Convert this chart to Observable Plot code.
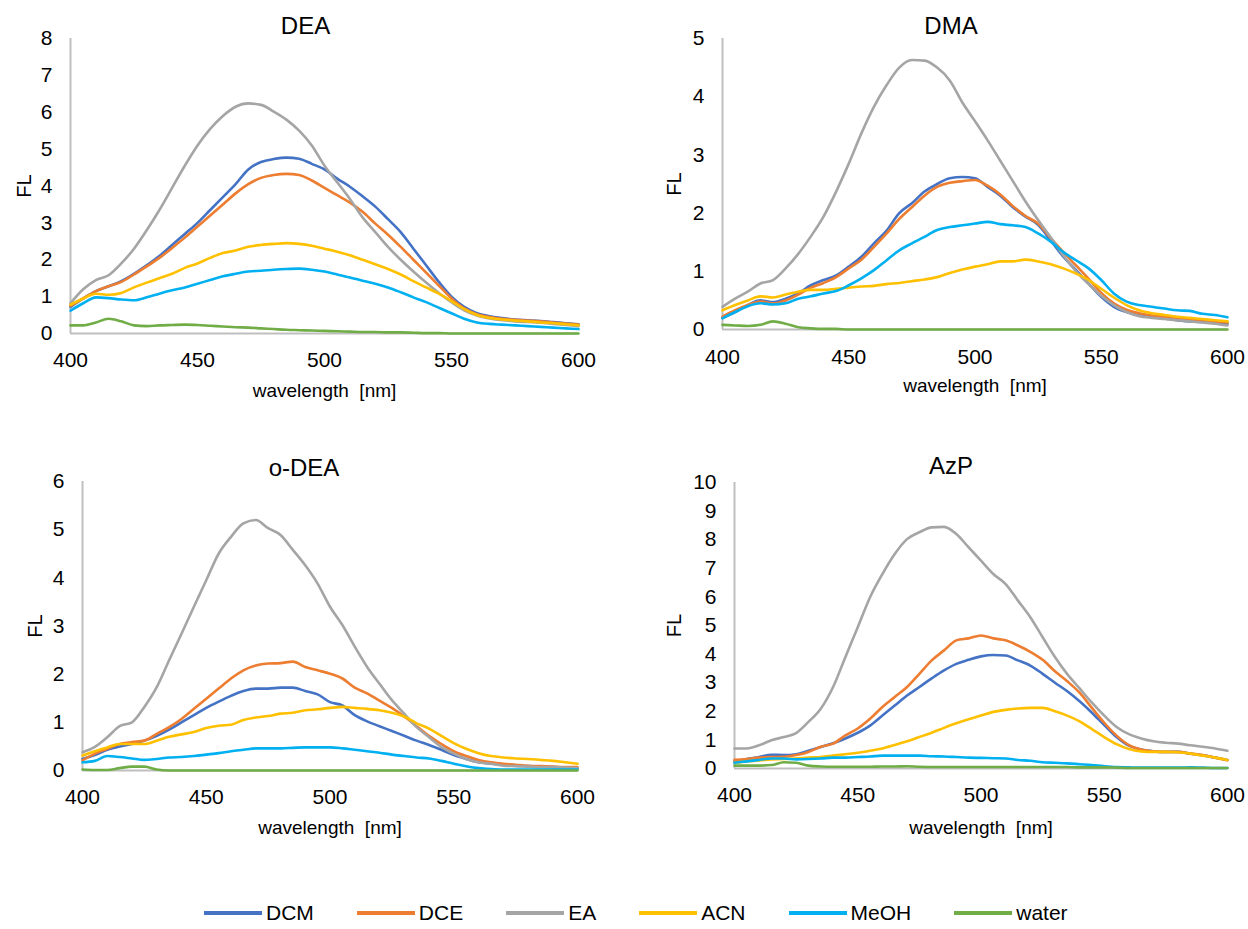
<!DOCTYPE html>
<html><head><meta charset="utf-8">
<script src="https://cdn.jsdelivr.net/npm/d3@7"></script>
<script src="https://cdn.jsdelivr.net/npm/@observablehq/plot@0.6"></script>
<style>
body{margin:0;background:#fff;}
#root{position:relative;width:1248px;height:929px;font-family:"Liberation Sans",Arial,sans-serif;overflow:hidden;}
.panel{position:absolute;}
.panel svg{overflow:visible;}
#legend{position:absolute;left:204px;top:900px;display:flex;align-items:center;gap:43px;font-size:21px;color:#000;line-height:26px;}
.item{display:flex;align-items:center;}
.sw{width:58px;height:4px;margin-right:4px;}
</style></head><body><div id="root"><div id="legend"></div></div>
<script>
const wavelengths = [400,405,410,415,420,425,430,435,440,445,450,455,460,465,470,475,480,485,490,495,500,505,510,515,520,525,530,535,540,545,550,555,560,565,570,575,580,585,590,595,600];
const solvents = ["DCM","DCE","EA","ACN","MeOH","water"];
const colors = ["#4472C4","#ED7D31","#A5A5A5","#FFC000","#00B0F0","#70AD47"];
const xTicks = [400,450,500,550,600];

// DEA
const DEA_DCM = [0.72,0.95,1.15,1.28,1.42,1.62,1.85,2.1,2.4,2.7,3.0,3.35,3.7,4.05,4.45,4.65,4.73,4.77,4.74,4.6,4.45,4.2,3.98,3.72,3.44,3.1,2.75,2.3,1.85,1.4,1.0,0.72,0.55,0.47,0.42,0.38,0.36,0.34,0.31,0.28,0.25];
const DEA_DCE = [0.75,0.95,1.15,1.28,1.4,1.6,1.82,2.05,2.32,2.6,2.9,3.2,3.5,3.8,4.05,4.22,4.3,4.33,4.3,4.15,3.95,3.75,3.55,3.3,2.98,2.68,2.35,2.0,1.65,1.3,0.95,0.68,0.52,0.45,0.4,0.37,0.35,0.33,0.3,0.27,0.24];
const DEA_EA = [0.82,1.2,1.45,1.58,1.9,2.3,2.8,3.35,3.95,4.55,5.1,5.55,5.9,6.15,6.24,6.2,6.02,5.8,5.5,5.1,4.55,4.1,3.65,3.15,2.75,2.35,2.0,1.68,1.38,1.1,0.85,0.63,0.49,0.41,0.36,0.33,0.31,0.29,0.26,0.23,0.2];
const DEA_ACN = [0.78,0.95,1.08,1.05,1.1,1.25,1.38,1.5,1.62,1.78,1.9,2.05,2.18,2.25,2.35,2.4,2.43,2.45,2.43,2.38,2.3,2.22,2.12,2.0,1.88,1.75,1.6,1.42,1.25,1.08,0.88,0.66,0.5,0.42,0.38,0.35,0.33,0.3,0.28,0.25,0.22];
const DEA_MeOH = [0.62,0.82,0.98,0.96,0.92,0.9,0.98,1.08,1.17,1.25,1.35,1.45,1.55,1.62,1.68,1.7,1.73,1.75,1.76,1.73,1.68,1.6,1.52,1.43,1.35,1.25,1.12,0.98,0.85,0.7,0.55,0.4,0.3,0.26,0.24,0.22,0.2,0.18,0.16,0.14,0.12];
const DEA_water = [0.22,0.22,0.3,0.4,0.33,0.22,0.2,0.22,0.23,0.24,0.23,0.21,0.19,0.17,0.16,0.14,0.12,0.1,0.09,0.08,0.07,0.06,0.05,0.04,0.04,0.03,0.03,0.02,0.01,0.01,0,0,0,0,0,0,0,0,0,0,0];

// DMA
const DMA_DCM = [0.2,0.3,0.42,0.5,0.47,0.53,0.62,0.76,0.85,0.93,1.08,1.25,1.48,1.7,2.0,2.17,2.37,2.5,2.6,2.62,2.6,2.45,2.3,2.1,1.94,1.8,1.53,1.25,1.02,0.79,0.56,0.39,0.3,0.25,0.22,0.19,0.16,0.14,0.13,0.11,0.1];
const DMA_DCE = [0.22,0.33,0.42,0.48,0.45,0.5,0.6,0.72,0.8,0.9,1.05,1.2,1.42,1.65,1.9,2.1,2.3,2.45,2.52,2.55,2.57,2.47,2.32,2.12,1.95,1.82,1.57,1.33,1.1,0.87,0.63,0.45,0.34,0.28,0.24,0.22,0.2,0.18,0.16,0.14,0.12];
const DMA_EA = [0.39,0.53,0.65,0.79,0.85,1.05,1.3,1.6,1.94,2.37,2.85,3.37,3.83,4.2,4.5,4.63,4.62,4.5,4.28,3.9,3.58,3.25,2.9,2.55,2.2,1.88,1.58,1.27,1.0,0.78,0.58,0.42,0.3,0.23,0.2,0.18,0.16,0.14,0.12,0.1,0.07];
const DMA_ACN = [0.33,0.42,0.5,0.57,0.55,0.6,0.65,0.68,0.68,0.7,0.72,0.74,0.75,0.78,0.8,0.83,0.86,0.9,0.97,1.03,1.08,1.12,1.17,1.17,1.2,1.17,1.12,1.05,0.96,0.85,0.7,0.55,0.42,0.33,0.28,0.25,0.22,0.2,0.18,0.16,0.14];
const DMA_MeOH = [0.19,0.3,0.4,0.45,0.43,0.45,0.53,0.57,0.62,0.66,0.76,0.88,1.02,1.19,1.36,1.48,1.59,1.71,1.76,1.79,1.82,1.85,1.81,1.79,1.76,1.65,1.51,1.33,1.19,1.05,0.85,0.62,0.48,0.42,0.39,0.36,0.33,0.32,0.27,0.25,0.21];
const DMA_water = [0.08,0.07,0.06,0.08,0.14,0.1,0.04,0.02,0.01,0.01,0,0,0,0,0,0,0,0,0,0,0,0,0,0,0,0,0,0,0,0,0,0,0,0,0,0,0,0,0,0,0];

// o-DEA
const ODEA_DCM = [0.24,0.32,0.43,0.5,0.55,0.62,0.72,0.85,1.0,1.15,1.3,1.43,1.55,1.65,1.7,1.7,1.72,1.72,1.65,1.58,1.42,1.35,1.15,1.02,0.92,0.82,0.72,0.62,0.53,0.43,0.32,0.24,0.17,0.14,0.12,0.1,0.09,0.08,0.07,0.06,0.05];
const ODEA_DCE = [0.21,0.35,0.45,0.55,0.59,0.62,0.76,0.9,1.07,1.28,1.49,1.7,1.91,2.08,2.18,2.22,2.23,2.26,2.15,2.08,2.01,1.91,1.72,1.6,1.45,1.3,1.12,0.92,0.72,0.55,0.4,0.3,0.22,0.17,0.14,0.12,0.1,0.09,0.08,0.07,0.07];
const ODEA_EA = [0.38,0.49,0.69,0.92,1.0,1.32,1.73,2.29,2.84,3.4,3.95,4.5,4.85,5.13,5.2,5.03,4.89,4.58,4.26,3.88,3.4,3.02,2.57,2.15,1.8,1.46,1.18,0.9,0.69,0.49,0.35,0.24,0.17,0.14,0.1,0.09,0.08,0.07,0.07,0.06,0.05];
const ODEA_ACN = [0.31,0.4,0.48,0.55,0.55,0.55,0.62,0.7,0.75,0.8,0.88,0.93,0.95,1.05,1.1,1.13,1.18,1.2,1.25,1.27,1.3,1.32,1.3,1.28,1.25,1.2,1.12,0.98,0.87,0.72,0.57,0.45,0.36,0.3,0.27,0.25,0.24,0.22,0.2,0.17,0.14];
const ODEA_MeOH = [0.17,0.2,0.3,0.28,0.25,0.22,0.24,0.27,0.28,0.3,0.33,0.36,0.4,0.43,0.46,0.46,0.46,0.47,0.48,0.48,0.48,0.46,0.43,0.4,0.37,0.33,0.3,0.27,0.25,0.2,0.14,0.09,0.05,0.03,0.02,0.02,0.02,0.02,0.02,0.02,0.02];
const ODEA_water = [0.02,0.01,0.01,0.05,0.08,0.08,0.02,0,0,0,0,0,0,0,0,0,0,0,0,0,0,0,0,0,0,0,0,0,0,0,0,0,0,0,0,0,0,0,0,0,0];

// AzP
const AZP_DCM = [0.25,0.33,0.4,0.48,0.47,0.5,0.62,0.75,0.88,1.05,1.25,1.5,1.85,2.2,2.55,2.85,3.15,3.43,3.66,3.8,3.92,3.97,3.95,3.78,3.6,3.31,3.0,2.7,2.35,1.95,1.52,1.1,0.8,0.66,0.6,0.58,0.58,0.52,0.46,0.38,0.3];
const AZP_DCE = [0.3,0.33,0.38,0.4,0.41,0.47,0.58,0.76,0.87,1.16,1.4,1.74,2.15,2.5,2.85,3.31,3.78,4.13,4.48,4.55,4.65,4.55,4.48,4.3,4.08,3.8,3.4,3.05,2.65,2.12,1.6,1.15,0.82,0.66,0.6,0.58,0.58,0.52,0.47,0.38,0.29];
const AZP_EA = [0.7,0.7,0.81,0.99,1.1,1.24,1.63,2.09,2.85,3.9,4.94,5.99,6.8,7.5,8.02,8.26,8.43,8.45,8.2,7.73,7.27,6.8,6.45,5.87,5.29,4.59,3.9,3.3,2.8,2.3,1.85,1.45,1.2,1.05,0.95,0.9,0.87,0.81,0.76,0.7,0.62];
const AZP_ACN = [0.2,0.25,0.28,0.32,0.33,0.35,0.38,0.4,0.45,0.5,0.55,0.62,0.7,0.82,0.95,1.1,1.25,1.42,1.58,1.72,1.85,1.98,2.05,2.1,2.12,2.12,2.0,1.85,1.65,1.38,1.1,0.85,0.68,0.6,0.58,0.58,0.57,0.52,0.45,0.38,0.3];
const AZP_MeOH = [0.2,0.25,0.3,0.35,0.35,0.32,0.33,0.35,0.38,0.38,0.4,0.42,0.45,0.45,0.45,0.45,0.43,0.42,0.4,0.38,0.37,0.36,0.35,0.3,0.27,0.22,0.2,0.18,0.15,0.12,0.08,0.05,0.04,0.03,0.03,0.03,0.03,0.04,0.03,0.02,0.02];
const AZP_water = [0.1,0.1,0.1,0.12,0.22,0.2,0.1,0.07,0.06,0.06,0.06,0.06,0.07,0.07,0.08,0.06,0.05,0.05,0.05,0.05,0.05,0.05,0.05,0.05,0.05,0.05,0.05,0.05,0.04,0.04,0.04,0.03,0.02,0.02,0.02,0.02,0.02,0.02,0.02,0.02,0.02];

const panelTitles = ["DEA","DMA","o-DEA","AzP"];
const panelSeries = [
  [DEA_DCM,DEA_DCE,DEA_EA,DEA_ACN,DEA_MeOH,DEA_water],
  [DMA_DCM,DMA_DCE,DMA_EA,DMA_ACN,DMA_MeOH,DMA_water],
  [ODEA_DCM,ODEA_DCE,ODEA_EA,ODEA_ACN,ODEA_MeOH,ODEA_water],
  [AZP_DCM,AZP_DCE,AZP_EA,AZP_ACN,AZP_MeOH,AZP_water]
];
const panelYTicks = [[0,1,2,3,4,5,6,7,8],[0,1,2,3,4,5],[0,1,2,3,4,5,6],[0,1,2,3,4,5,6,7,8,9,10]];

// layout
const layout = [
  {left:0,top:0,width:620,height:430,mL:70,mR:42,mT:38,mB:97,tDx:-19,tDy:-12,flDx:-46,wlDy:57,padX:19},
  {left:620,top:0,width:628,height:430,mL:102,mR:21,mT:38,mB:101,tDx:-24,tDy:-12,flDx:-48,wlDy:56,padX:20},
  {left:0,top:440,width:620,height:440,mL:82,mR:43,mT:41,mB:110,tDx:-26,tDy:-13,flDx:-47,wlDy:57,padX:19},
  {left:620,top:440,width:628,height:440,mL:114,mR:21,mT:42,mB:112,tDx:-30,tDy:-16,flDx:-60,wlDy:59,padX:19}
];

const root = document.getElementById("root");
const font = "'Liberation Sans', Arial, sans-serif";

panelTitles.forEach((title, p) => {
  const L = layout[p];
  const yTicks = panelYTicks[p];
  const yMax = yTicks[yTicks.length - 1];
  const rows = solvents.flatMap((s, i) => wavelengths.map((w, j) => ({wl: w, fl: panelSeries[p][i][j], solvent: s})));
  const chart = Plot.plot({
    width: L.width, height: L.height,
    marginLeft: L.mL, marginRight: L.mR, marginTop: L.mT, marginBottom: L.mB,
    style: {fontFamily: font, fontSize: "21px", color: "#000", background: "transparent"},
    x: {domain: [400, 600]},
    y: {domain: [0, yMax]},
    color: {domain: solvents, range: colors},
    marks: [
      Plot.ruleX([400], {y1: 0, y2: yMax, stroke: "#bfbfbf", strokeWidth: 2}),
      Plot.ruleY([0], {stroke: "#bfbfbf", strokeWidth: 2}),
      Plot.axisX({ticks: xTicks, tickSize: 0, tickPadding: L.padX, label: null, fontSize: 21, tickFormat: d => String(d)}),
      Plot.axisY({ticks: yTicks, tickSize: 0, tickPadding: 18, label: null, fontSize: 21, tickFormat: d => String(d)}),
      Plot.lineY(rows, {x: "wl", y: "fl", z: "solvent", stroke: "solvent", strokeWidth: 2.6, curve: "monotone-x"}),
      Plot.text([title], {text: d => d, frameAnchor: "top", lineAnchor: "middle", textAnchor: "middle", dx: L.tDx, dy: L.tDy, fontSize: 24, fill: "#000"}),
      Plot.text(["FL"], {text: d => d, frameAnchor: "left", lineAnchor: "middle", textAnchor: "middle", dx: L.flDx, rotate: -90, fontSize: 20, fill: "#000"}),
      Plot.text(["wavelength\u00a0 [nm]"], {text: d => d, frameAnchor: "bottom", lineAnchor: "middle", textAnchor: "middle", dy: L.wlDy, fontSize: 19, fill: "#000"})
    ]
  });
  const div = document.createElement("div");
  div.className = "panel";
  div.style.left = L.left + "px";
  div.style.top = L.top + "px";
  div.appendChild(chart);
  root.appendChild(div);
});

const legend = document.getElementById("legend");
solvents.forEach((s, i) => {
  const item = document.createElement("div");
  item.className = "item";
  const sw = document.createElement("span");
  sw.className = "sw";
  sw.style.background = colors[i];
  const t = document.createElement("span");
  t.textContent = s;
  item.appendChild(sw);
  item.appendChild(t);
  legend.appendChild(item);
});
</script>
</body></html>
